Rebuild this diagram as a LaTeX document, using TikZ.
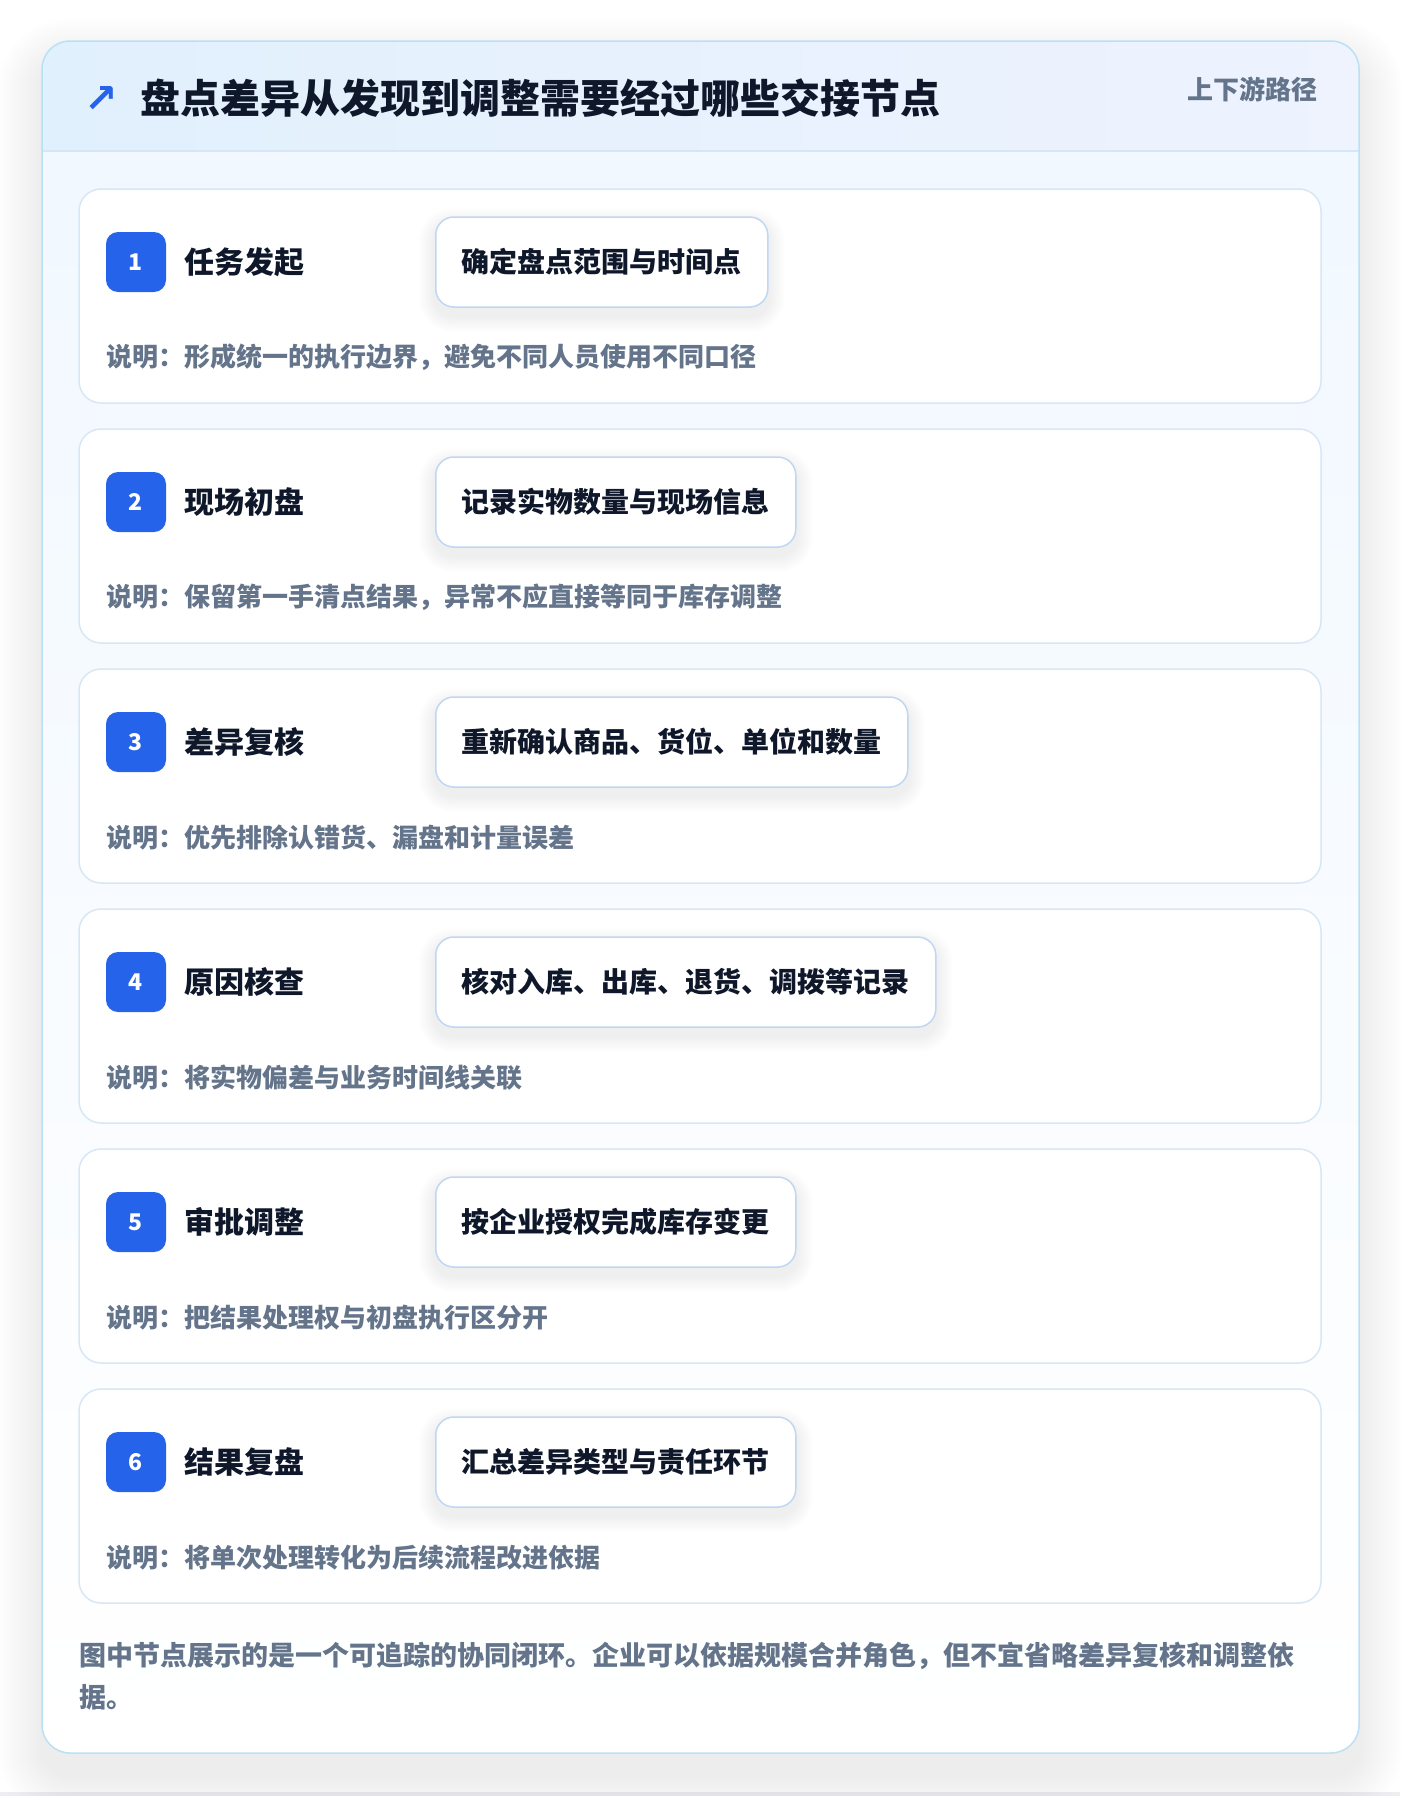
\documentclass[tikz,border=0pt]{standalone}
\usepackage{fontspec}
\setmainfont{Noto Sans CJK SC}
\newfontfamily\symfont{DejaVu Sans}

\pgfdeclarelayer{bg}
\pgfdeclarelayer{shade}
\pgfsetlayers{bg,shade,main}

\definecolor{ink}{HTML}{0F172A}
\definecolor{slate}{HTML}{64748B}
\definecolor{badgeblue}{HTML}{2563EB}
\definecolor{cardedge}{HTML}{D8E7F6}
\definecolor{actedge}{HTML}{BFD7F2}
\definecolor{outeredge}{HTML}{BAE0F6}
\definecolor{headleft}{HTML}{E1F0FD}
\definecolor{headright}{HTML}{EEF3FE}
\definecolor{headline}{HTML}{D4E6F8}
\definecolor{bodytop}{HTML}{F1F8FF}
\definecolor{pagefoot}{HTML}{EDEDF2}

\newcommand\fsz[1]{\fontsize{#1}{#1}\selectfont\bfseries}
% soft shadow under an action box
\newcommand\boxshadow[1]{%
  \foreach \r [evaluate=\r as \rc using 18+\r*2] in {1,...,8}
    \fill[black, opacity=0.009, rounded corners=\rc]
      ([xshift=-\r*2, yshift=-8-\r*2]#1.south west)
      rectangle ([xshift=\r*2, yshift=-8+\r*2]#1.north east);}

\tikzset{every picture/.append style={x=1pt, y=1pt}}
\tikzset{
    stepcard/.style={draw=cardedge, fill=white, line width=1.5pt,
    	rounded corners=22, minimum width=1242, minimum height=214},
    badge/.style={fill=badgeblue, rounded corners=12, minimum size=60,
    	inner sep=0, text=white, font=\fsz{23}},
    steptitle/.style={anchor=west, inner sep=0, text=ink, font=\fsz{30}},
    actbox/.style={anchor=west, draw=actedge, fill=white, line width=1.5pt,
    	rounded corners=18, minimum height=90, inner xsep=26, text=ink,
    	font=\fsz{28}},
    note/.style={anchor=west, inner sep=0, text=slate, font=\fsz{26}}
}

\begin{document}
\begin{tikzpicture}
  \useasboundingbox (0,0) rectangle (1400,-1796);

  \begin{pgfonlayer}{bg}
  \fill[white] (0,0) rectangle (1400,-1796);
  \fill[pagefoot] (0,-1792) rectangle (1400,-1796);
  % outer shadow
  \foreach \r [evaluate=\r as \rc using 28+\r*2.5] in {1,...,18}
    \fill[black, opacity=0.0045, rounded corners=\rc]
      (42-\r*2.5,-41-22+\r*2.5) rectangle (1359+\r*2.5,-1753-22-\r*2.5);
  % outer card
  \fill[white, rounded corners=28] (42,-41) rectangle (1359,-1753);
  \begin{scope}
    \clip[rounded corners=28] (42,-41) rectangle (1359,-1753);
    \shade[top color=bodytop, bottom color=white] (42,-151) rectangle (1359,-1753);
    \shade[left color=headleft, right color=headright] (42,-41) rectangle (1359,-151);
    \draw[headline, line width=1.5pt] (42,-151) -- (1359,-151);
  \end{scope}
  \draw[outeredge, line width=1.5pt, rounded corners=28] (42,-41) rectangle (1359,-1753);

  \node (card_1) [stepcard] at (700,-296) {};
  \node (card_2) [stepcard] at (700,-536) {};
  \node (card_3) [stepcard] at (700,-776) {};
  \node (card_4) [stepcard] at (700,-1016) {};
  \node (card_5) [stepcard] at (700,-1256) {};
  \node (card_6) [stepcard] at (700,-1496) {};
  \end{pgfonlayer}

  % header
  \node (icon) [text=badgeblue, font=\symfont\bfseries\fontsize{40}{40}\selectfont] at (101,-100) {↗};
  \node (title) [anchor=west, inner sep=0, text=ink, font=\fsz{40}] at (140,-98.5)
    {盘点差异从发现到调整需要经过哪些交接节点};
  \node (tag) [anchor=east, inner sep=0, text=slate, font=\fsz{26}] at (1318,-89) {上下游路径};

  % step 1
  \node (b_1) [badge] at (136,-262) {1};
  \node (t_1) [steptitle] at (184.5,-262) {任务发起};
  \node (a_1) [actbox] at (435,-262) {确定盘点范围与时间点};
  \node (n_1) [note] at (106.5,-357.5) {说明：形成统一的执行边界，避免不同人员使用不同口径};

  % step 2
  \node (b_2) [badge] at (136,-502) {2};
  \node (t_2) [steptitle] at (184.5,-502) {现场初盘};
  \node (a_2) [actbox] at (435,-502) {记录实物数量与现场信息};
  \node (n_2) [note] at (106.5,-597.5) {说明：保留第一手清点结果，异常不应直接等同于库存调整};

  % step 3
  \node (b_3) [badge] at (136,-742) {3};
  \node (t_3) [steptitle] at (184.5,-742) {差异复核};
  \node (a_3) [actbox] at (435,-742) {重新确认商品、货位、单位和数量};
  \node (n_3) [note] at (106.5,-837.5) {说明：优先排除认错货、漏盘和计量误差};

  % step 4
  \node (b_4) [badge] at (136,-982) {4};
  \node (t_4) [steptitle] at (184.5,-982) {原因核查};
  \node (a_4) [actbox] at (435,-982) {核对入库、出库、退货、调拨等记录};
  \node (n_4) [note] at (106.5,-1077.5) {说明：将实物偏差与业务时间线关联};

  % step 5
  \node (b_5) [badge] at (136,-1222) {5};
  \node (t_5) [steptitle] at (184.5,-1222) {审批调整};
  \node (a_5) [actbox] at (435,-1222) {按企业授权完成库存变更};
  \node (n_5) [note] at (106.5,-1317.5) {说明：把结果处理权与初盘执行区分开};

  % step 6
  \node (b_6) [badge] at (136,-1462) {6};
  \node (t_6) [steptitle] at (184.5,-1462) {结果复盘};
  \node (a_6) [actbox] at (435,-1462) {汇总差异类型与责任环节};
  \node (n_6) [note] at (106.5,-1557.5) {说明：将单次处理转化为后续流程改进依据};

  \begin{pgfonlayer}{shade}
  \boxshadow{a_1} \boxshadow{a_2} \boxshadow{a_3}
  \boxshadow{a_4} \boxshadow{a_5} \boxshadow{a_6}
  \end{pgfonlayer}

  % footer
  \node (foot_1) [anchor=west, inner sep=0, text=slate, font=\fsz{27}] at (79,-1655.5)
    {图中节点展示的是一个可追踪的协同闭环。企业可以依据规模合并角色，但不宜省略差异复核和调整依};
  \node (foot_2) [anchor=west, inner sep=0, text=slate, font=\fsz{27}] at (79,-1697) {据。};
\end{tikzpicture}
\end{document}
